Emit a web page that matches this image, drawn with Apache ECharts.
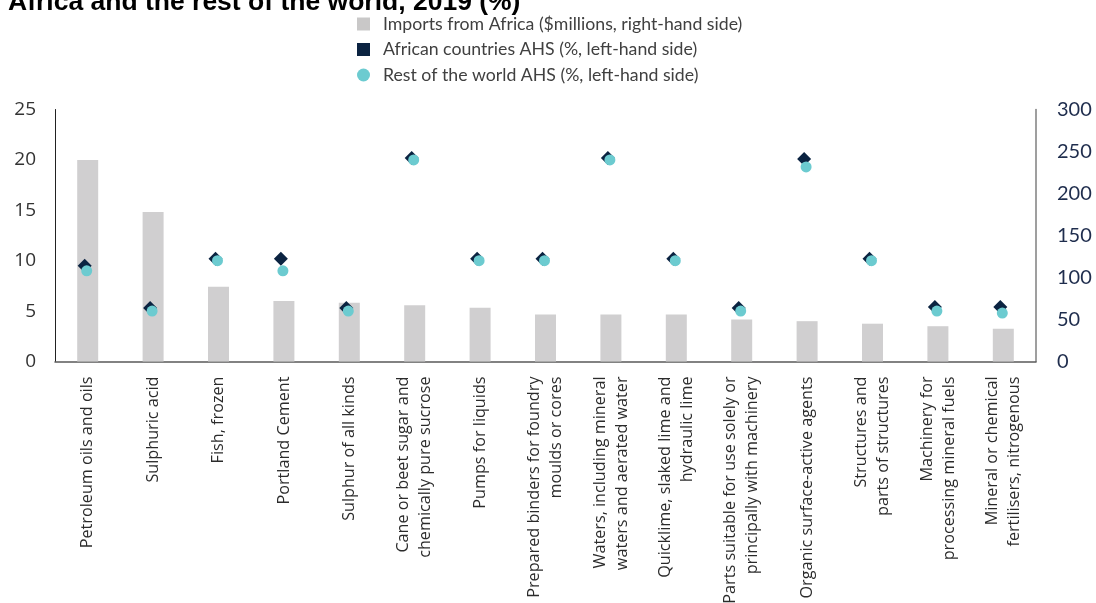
<!DOCTYPE html>
<html>
<head>
<meta charset="utf-8">
<script src="https://cdn.jsdelivr.net/npm/echarts@6/dist/echarts.min.js"></script>
<style>
html,body{margin:0;padding:0;background:#fff;}
#chart{width:1096px;height:603px;}
</style>
</head>
<body>
<div id="chart"></div>
<script>
const titleText = 'Africa and the rest of the world, 2019 (%)';
const categories = [
  'Petroleum oils and oils',
  'Sulphuric acid',
  'Fish, frozen',
  'Portland Cement',
  'Sulphur of all kinds',
  'Cane or beet sugar and\nchemically pure sucrose',
  'Pumps for liquids',
  'Prepared binders for foundry\nmoulds or cores',
  'Waters, including mineral\nwaters and aerated water',
  'Quicklime, slaked lime and\nhydraulic lime',
  'Parts suitable for use solely or\nprincipally with machinery',
  'Organic surface-active agents',
  'Structures and\nparts of structures',
  'Machinery for\nprocessing mineral fuels',
  'Mineral or chemical\nfertilisers, nitrogenous'
];
const seriesNames = [
  'Imports from Africa ($millions, right-hand side)',
  'African countries AHS (%, left-hand side)',
  'Rest of the world AHS (%, left-hand side)'
];
const importsFromAfrica = [240, 178, 89, 72, 70, 67, 64, 56, 56, 56, 50, 48, 45, 42, 39];
const africanAHS = [9.5, 5.3, 10.2, 10.2, 5.3, 20.2, 10.2, 10.2, 20.2, 10.2, 5.3, 20.1, 10.2, 5.4, 5.4];
const restOfWorldAHS = [9.0, 5.0, 10.0, 9.0, 5.0, 20.0, 10.0, 10.0, 20.0, 10.0, 5.0, 19.3, 10.0, 5.0, 4.8];
const leftAxisRange = [0, 25, 5];
const rightAxisRange = [0, 300, 50];

const chart = echarts.init(document.getElementById('chart'), null, {renderer: 'canvas'});
chart.setOption({
  animation: false,
  backgroundColor: '#ffffff',
  title: {
    text: titleText,
    left: 8,
    top: -11,
    padding: 0,
    textStyle: {fontFamily: 'Liberation Sans', fontSize: 26.5, fontWeight: 'bold', color: '#000000'}
  },
  legend: {
    orient: 'vertical',
    left: 357,
    top: 15,
    padding: 0,
    itemGap: 7.5,
    itemWidth: 13,
    itemHeight: 13,
    textStyle: {fontFamily: 'Lato', fontSize: 17.7, color: '#404040', padding: [0, 0, 0, 8], lineHeight: 16},
    data: [
      {name: seriesNames[0], icon: 'rect', itemStyle: {color: '#c9c8c8'}},
      {name: seriesNames[1], icon: 'rect'},
      {name: seriesNames[2], icon: 'circle'}
    ]
  },
  grid: {left: 55, right: 60, top: 109.5, bottom: 241.5, containLabel: false, outerBoundsMode: 'none'},
  xAxis: {
    type: 'category',
    data: categories,
    axisLine: {show: true, lineStyle: {color: '#595959', width: 1.5}},
    axisTick: {show: false},
    axisLabel: {
      interval: 0,
      rotate: 90,
      margin: 15,
      fontFamily: 'Open Sans',
      fontSize: 16.2,
      lineHeight: 22,
      color: '#2b2b2b'
    }
  },
  yAxis: [
    {
      type: 'value',
      min: leftAxisRange[0], max: leftAxisRange[1], interval: leftAxisRange[2],
      position: 'left',
      axisLine: {show: true, lineStyle: {color: '#222222', width: 1}},
      axisTick: {show: false},
      splitLine: {show: false},
      axisLabel: {margin: 19, fontFamily: 'Open Sans', fontSize: 19, color: '#333333'}
    },
    {
      type: 'value',
      min: rightAxisRange[0], max: rightAxisRange[1], interval: rightAxisRange[2],
      position: 'right',
      axisLine: {show: true, lineStyle: {color: '#7f7f7f', width: 1.5}},
      axisTick: {show: false},
      splitLine: {show: false},
      axisLabel: {margin: 21, fontFamily: 'Lato', fontSize: 20, color: '#1f2d4d'}
    }
  ],
  series: [
    {
      name: seriesNames[0],
      type: 'bar',
      yAxisIndex: 1,
      barWidth: 21,
      itemStyle: {color: '#d0cfd0'},
      data: importsFromAfrica
    },
    {
      name: seriesNames[1],
      type: 'scatter',
      yAxisIndex: 0,
      symbol: 'diamond',
      symbolSize: 14,
      symbolOffset: [-3, 0],
      itemStyle: {color: '#0b2341', opacity: 1},
      data: africanAHS
    },
    {
      name: seriesNames[2],
      type: 'scatter',
      yAxisIndex: 0,
      symbol: 'circle',
      symbolSize: 11,
      symbolOffset: [-1, 0],
      itemStyle: {color: '#6ccbd0', opacity: 1},
      data: restOfWorldAHS
    }
  ]
});
</script>
</body>
</html>
